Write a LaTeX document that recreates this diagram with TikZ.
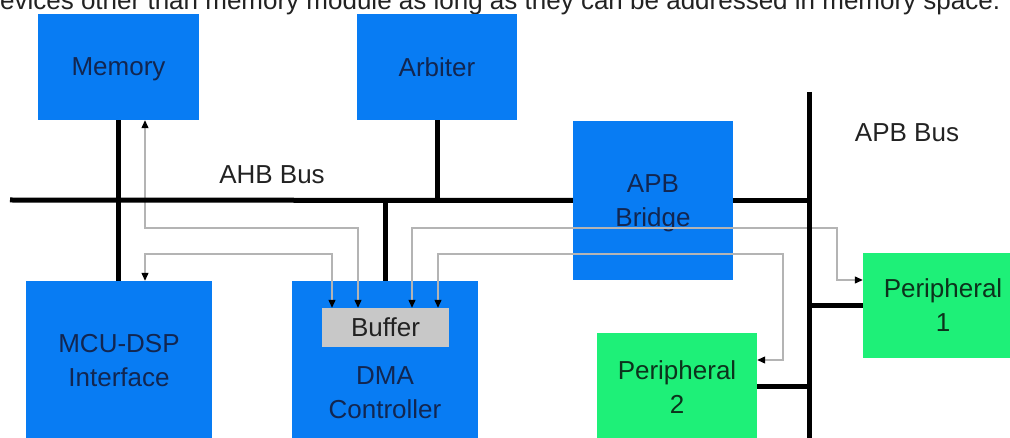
\documentclass[tikz,border=0pt]{standalone}
\usepackage{fontspec}
\setmainfont{Liberation Sans}
\usetikzlibrary{arrows.meta}
\definecolor{boxblue}{RGB}{8,124,243}
\definecolor{boxgreen}{RGB}{30,240,120}
\definecolor{bufgrey}{RGB}{200,200,200}
\definecolor{navytext}{RGB}{18,38,80}
\definecolor{greentext}{RGB}{12,50,28}
\definecolor{sigline}{RGB}{180,180,180}
\definecolor{labeltext}{RGB}{34,34,34}
\begin{document}
\begin{tikzpicture}[x=1pt,y=-1pt,
  box/.style={rectangle, inner sep=0pt, align=center, text depth=0pt, font=\fontsize{26}{34}\selectfont},
  bluebox/.style={box, fill=boxblue, text=navytext},
  greenbox/.style={box, fill=boxgreen, text=greentext},
  bus/.style={line width=5pt, black},
  sig/.style={draw=sigline, line width=1.2pt,
    {Triangle[length=8pt,width=7pt,color=black]}-{Triangle[length=8pt,width=7pt,color=black]}},
  lbl/.style={font=\fontsize{26}{34}\selectfont, text=labeltext}
]
\useasboundingbox (0,0) rectangle (1010,438);
\clip (0,0) rectangle (1010,438);

% caption line, cut off at the top
\node[anchor=base west, inner sep=0pt, font=\fontsize{26}{30}\selectfont, text=labeltext] (cap) at (-14.5,9.5)
  {devices other than memory module as long as they can be addressed in memory space.};

% boxes
\node[bluebox, minimum width=161pt, minimum height=106pt] (mem) at (118.5,67) {Memory};
\node[bluebox, minimum width=160pt, minimum height=106pt] (arb) at (437,67) {Arbiter};
\node[bluebox, minimum width=160pt, minimum height=159pt] (apb) at (653,200.5) {APB\\Bridge};
\node[bluebox, minimum width=186pt, minimum height=158pt] (mcu) at (119,360) {MCU-DSP\\Interface};
\node[bluebox, minimum width=186pt, minimum height=224pt] (dma) at (385,393) {DMA\\Controller};
\node[box, fill=bufgrey, text=labeltext, minimum width=127pt, minimum height=39pt] (buf) at (385.5,327.5) {Buffer};
\node[greenbox, minimum width=160pt, minimum height=105pt] (p1) at (943,305.5) {Peripheral\\1};
\node[greenbox, minimum width=160pt, minimum height=108pt] (p2) at (677,387) {Peripheral\\2};

% bus labels
\node[lbl] (ahb) at (272,175) {AHB Bus};
\node[lbl] (apbl) at (907,133) {APB Bus};

% signal paths
\draw[sig] (mem.south -| 145,0) -- (145,228) -- (358,228) -- (buf.north -| 358,0);
\draw[sig] (mcu.north -| 145,0) -- (145,254) -- (332,254) -- (buf.north -| 332,0);
\draw[sig] (buf.north -| 412,0) -- (412,228) -- (837,228) -- (837,280) -- (p1.west |- 0,280);
\draw[sig] (buf.north -| 438,0) -- (438,254) -- (783,254) -- (783,360) -- (p2.east |- 0,360);

% buses
\coordinate (ahbL) at (10,200);
\coordinate (apbT) at (809,92);
\coordinate (apbB) at (809,445);
\draw[bus] (ahbL) -- (apb.west);
\draw[bus] (apb.east) -- (apb.east -| apbT);
\draw[bus] (apbT) -- (apbB);
\draw[bus] (mem.south) -- (mcu.north -| mem.south);
\draw[bus] (arb.south) -- (arb.south |- ahbL);
\draw[bus] (dma.north) -- (dma.north |- ahbL);
\draw[bus] (p1.west) -- (p1.west -| apbT);
\draw[bus] (p2.east) -- (p2.east -| apbT);
\end{tikzpicture}
\end{document}
